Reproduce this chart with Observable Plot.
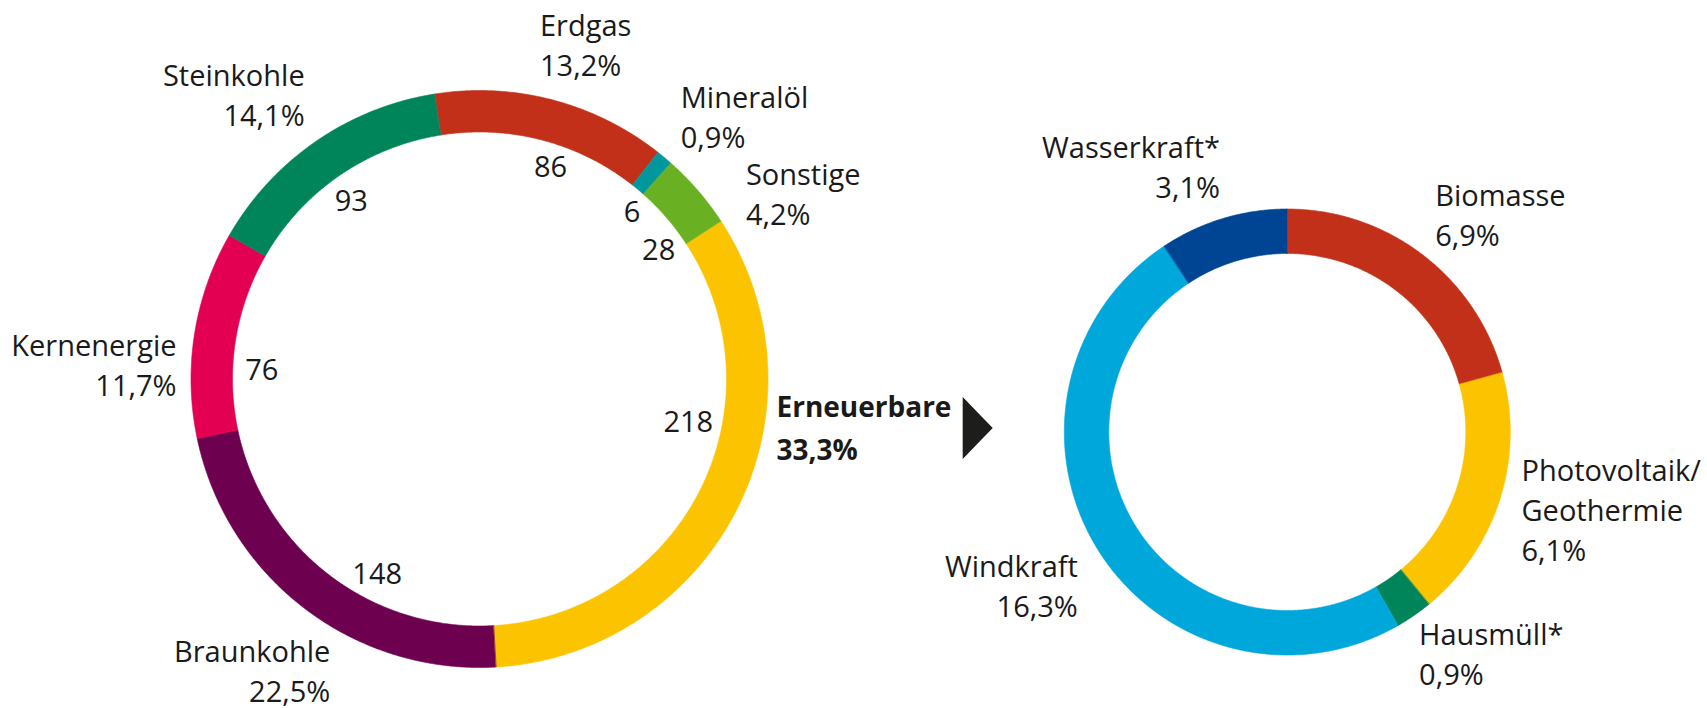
<!DOCTYPE html>
<html>
<head>
<meta charset="utf-8">
<script src="https://cdn.jsdelivr.net/npm/d3@7"></script>
<script src="https://cdn.jsdelivr.net/npm/@observablehq/plot@0.6"></script>
<style>
  html, body { margin: 0; padding: 0; background: #ffffff; }
  #chart svg { display: block; }
</style>
</head>
<body>
<div id="chart"></div>
<script>
// ---------------- data ----------------
const mixCategories = ["Erdgas", "Mineralöl", "Sonstige", "Erneuerbare", "Braunkohle", "Kernenergie", "Steinkohle"];
const mixValues     = [86, 6, 28, 218, 148, 76, 93];
const mixShares     = ["13,2%", "0,9%", "4,2%", "33,3%", "22,5%", "11,7%", "14,1%"];

const renewCategories = ["Biomasse", "Photovoltaik/\nGeothermie", "Hausmüll*", "Windkraft", "Wasserkraft*"];
const renewValues     = [6.9, 6.1, 0.9, 16.3, 3.1];

// ---------------- styles / layout ----------------
const W = 1707, H = 708;
const FONT = "'Open Sans', 'Noto Sans', sans-serif";
const FS = 29, LINE = 40;          // regular labels
const FSB = 28, LINEB = 42.3;      // bold summary label
const INK = "#1a1a1a";
const palette = {
  "Erdgas": "#c3301a", "Mineralöl": "#00979d", "Sonstige": "#6ab023", "Erneuerbare": "#fcc400",
  "Braunkohle": "#6e0050", "Kernenergie": "#e30052", "Steinkohle": "#00855a",
  "Biomasse": "#c3301a", "Photovoltaik/\nGeothermie": "#fcc400", "Hausmüll*": "#00855a",
  "Windkraft": "#00a7db", "Wasserkraft*": "#004494"
};
const leftRing  = {cx: 479.5,  cy: 379, rOuter: 288.5, rInner: 247,   start: -9, labelGap: 40, valueR: 220};
const rightRing = {cx: 1287.3, cy: 432, rOuter: 223,   rInner: 178.5, start: 0,  labelGap: 40};

// small hand nudges for label placement (pixels)
const outerNudge = {
  "Erdgas": [-23, -16], "Mineralöl": [-10, -10], "Sonstige": [17, 30], "Braunkohle": [50, 31],
  "Kernenergie": [21, 38], "Steinkohle": [11, -13],
  "Biomasse": [-12, -8], "Photovoltaik/\nGeothermie": [-17, -1], "Hausmüll*": [-18, 6],
  "Windkraft": [14, 16], "Wasserkraft*": [8, -13]
};
const valueNudge = {
  "Erdgas": [15, 1], "Mineralöl": [11, 2], "Sonstige": [12, 15], "Erneuerbare": [12, -56],
  "Braunkohle": [31, 21], "Kernenergie": [-1, 26], "Steinkohle": [-4, 3]
};

// ---------------- geometry helpers ----------------
const rad = a => a * Math.PI / 180;
const polar = (cfg, a, r) => [cfg.cx + r * Math.sin(rad(a)), cfg.cy - r * Math.cos(rad(a))];

function buildRing(cats, vals, cfg) {
  const total = d3.sum(vals);
  const angle = d3.scaleLinear().domain([0, total]).range([cfg.start, cfg.start + 360]);
  let acc = 0;
  const slices = cats.map((c, i) => {
    const a0 = angle(acc); acc += vals[i]; const a1 = angle(acc);
    return {key: c, value: vals[i], a0, a1, mid: (a0 + a1) / 2};
  });
  const pts = [];
  for (const s of slices) {
    const n = Math.max(2, Math.ceil((s.a1 - s.a0) / 0.4));
    for (let k = 0; k <= n; k++) {
      const a = s.a0 + (s.a1 - s.a0) * k / n;
      const [xo, yo] = polar(cfg, a, cfg.rOuter);
      const [xi, yi] = polar(cfg, a, cfg.rInner);
      pts.push({key: s.key, xo, yo, xi, yi});
    }
  }
  return {slices, pts};
}

const left = buildRing(mixCategories, mixValues, leftRing);
const right = buildRing(renewCategories, renewValues, rightRing);

// outer labels: block centred on a point just outside the ring at the slice's mid-angle
function outerLabel(s, cfg, text) {
  const r = cfg.rOuter + cfg.labelGap;
  const [px, py] = polar(cfg, s.mid, r);
  const sn = Math.sin(rad(s.mid));
  const anchor = sn > 0.2 ? "start" : sn < -0.2 ? "end" : "middle";
  const n = text.split("\n").length;
  const nd = outerNudge[s.key] || [0, 0];
  const centerY = py + nd[1];
  const baseline = centerY + ((n - 1) * LINE + 0.714 * FS) / 2;   // last line baseline
  return {text, x: px + nd[0], y: baseline, anchor};
}

const labels = [];
left.slices.forEach((s, i) => {
  if (s.key === "Erneuerbare") return;
  labels.push(outerLabel(s, leftRing, s.key + "\n" + mixShares[i]));
});
const fmtPct = v => v.toFixed(1).replace(".", ",") + "%";
right.slices.forEach((s, i) => {
  labels.push(outerLabel(s, rightRing, s.key + "\n" + fmtPct(renewValues[i])));
});

// summary label + arrow, on the horizontal line through the right ring's centre
const midY = rightRing.cy - 4;
const ern = left.slices.find(s => s.key === "Erneuerbare");
const ernIdx = mixCategories.indexOf("Erneuerbare");
const summary = [{
  text: ern.key + "\n" + mixShares[ernIdx],
  x: leftRing.cx + leftRing.rOuter + 8,
  y: midY + (LINEB + 0.714 * FSB) / 2
}];
const arrowLeft = rightRing.cx - rightRing.rOuter - 101.6;
const arrowW = 30, arrowH = 62;
const arrow = [
  {x1: arrowLeft, y1: midY - arrowH / 2, x2: arrowLeft, y2: midY + arrowH / 2},
  {x1: arrowLeft + arrowW, y1: midY, x2: arrowLeft + arrowW, y2: midY}
];

// value labels inside the left ring
const values = left.slices.map(s => {
  const [x, y] = polar(leftRing, s.mid, leftRing.valueR);
  const nd = valueNudge[s.key] || [0, 0];
  return {text: String(s.value), x: x + nd[0], y: y + nd[1]};
});

// ---------------- plot ----------------
const textCommon = {fontFamily: FONT, fill: INK, stroke: null};
const chart = Plot.plot({
  width: W, height: H,
  margin: 0,
  x: {type: "linear", domain: [0, W], range: [0, W], axis: null},
  y: {type: "linear", domain: [0, H], range: [0, H], axis: null},
  color: {type: "identity"},
  style: {background: "#ffffff", fontFamily: FONT, overflow: "visible"},
  marks: [
    Plot.area(left.pts,  {x1: "xo", y1: "yo", x2: "xi", y2: "yi", z: "key", fill: d => palette[d.key], stroke: d => palette[d.key], strokeWidth: 0.6}),
    Plot.area(right.pts, {x1: "xo", y1: "yo", x2: "xi", y2: "yi", z: "key", fill: d => palette[d.key], stroke: d => palette[d.key], strokeWidth: 0.6}),
    Plot.area(arrow, {x1: "x1", y1: "y1", x2: "x2", y2: "y2", fill: "#1d1d1b"}),
    ...["start", "end", "middle"].map(a =>
      Plot.text(labels.filter(d => d.anchor === a), {
        x: "x", y: "y", text: "text", textAnchor: a, lineAnchor: "bottom",
        lineHeight: LINE / FS, fontSize: FS, ...textCommon
      })),
    Plot.text(summary, {x: "x", y: "y", text: "text", textAnchor: "start", lineAnchor: "bottom",
      lineHeight: LINEB / FSB, fontSize: FSB, fontWeight: 700, ...textCommon}),
    Plot.text(values, {x: "x", y: "y", text: "text", textAnchor: "middle", lineAnchor: "middle",
      fontSize: FS, ...textCommon})
  ]
});
document.getElementById("chart").appendChild(chart);
</script>
</body>
</html>
